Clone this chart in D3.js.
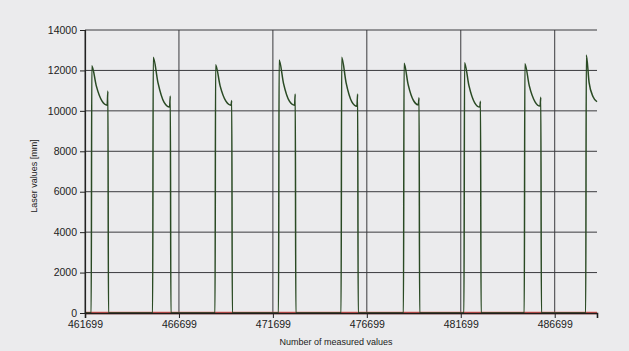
<!DOCTYPE html>
<html>
<head>
<meta charset="utf-8">
<script src="https://cdn.jsdelivr.net/npm/d3@7"></script>
<style>
  html, body { margin: 0; padding: 0; background: #ebebed; }
  svg { display: block; font-family: "Liberation Sans", Arial, sans-serif; }
</style>
</head>
<body>
<svg id="chart" width="629" height="351"></svg>
<script>
const riseAt   = [462030, 465300, 468620, 472000, 475330, 478650, 481870, 485080, 488350];
const dropAt   = [462918, 466240, 469510, 472890, 476210, 479480, 482750, 485960, 488950];
const peakVal  = [12230, 12650, 12280, 12510, 12650, 12350, 12380, 12330, 12760];
const mid1Val  = [11250, 11400, 11250, 11350, 11400, 11300, 11250, 11250, 11400];
const mid2Val  = [10480, 10420, 10480, 10480, 10450, 10500, 10400, 10450, 10700];
const troughVal = [10280, 10190, 10280, 10280, 10230, 10300, 10190, 10240, 10450];
const jumpVal  = [10980, 10740, 10510, 10840, 10840, 10650, 10480, 10670, null];

const xStart = 461699, xEnd = 488950;
const xTicks = [461699, 466699, 471699, 476699, 481699, 486699];
const yTicks = [0, 2000, 4000, 6000, 8000, 10000, 12000, 14000];

const width = 629, height = 351;
const margin = { left: 85, right: 32, top: 30, bottom: 38 };
const svg = d3.select("#chart");

const x = d3.scaleLinear().domain([xStart, xEnd]).range([margin.left, width - margin.right]);
const y = d3.scaleLinear().domain([0, 14000]).range([height - margin.bottom, margin.top]);

const gridColor = "#3a3a3e";

// horizontal grid
svg.append("g").selectAll("line").data(yTicks.filter(d => d > 0)).join("line")
  .attr("x1", margin.left).attr("x2", width - margin.right)
  .attr("y1", d => y(d)).attr("y2", d => y(d))
  .attr("stroke", gridColor).attr("stroke-width", 1);

// vertical grid
svg.append("g").selectAll("line").data(xTicks).join("line")
  .attr("x1", d => x(d)).attr("x2", d => x(d))
  .attr("y1", y(14000)).attr("y2", y(0))
  .attr("stroke", gridColor).attr("stroke-width", 1);

// build the line points
const pts = [[xStart, 0]];
riseAt.forEach((r, i) => {
  const d = dropAt[i], w = d - r;
  pts.push([r, 0]);
  pts.push([r + 30, peakVal[i]]);
  pts.push([r + 0.3 * w, mid1Val[i]]);
  pts.push([r + 0.65 * w, mid2Val[i]]);
  if (jumpVal[i] != null) {
    pts.push([d - 40, troughVal[i]]);
    pts.push([d, jumpVal[i]]);
    pts.push([d + 30, 0]);
  } else {
    pts.push([d, troughVal[i]]);
  }
});

const line = d3.line().x(d => x(d[0])).y(d => y(d[1])).curve(d3.curveMonotoneX);

// red zero series
svg.append("path").datum([[xStart, 0], [xEnd, 0]])
  .attr("d", d3.line().x(d => x(d[0])).y(d => y(d[1])))
  .attr("fill", "none").attr("stroke", "#d9554f").attr("stroke-width", 2.4);

svg.append("path").datum(pts).attr("d", line)
  .attr("fill", "none").attr("stroke", "#2a4a24").attr("stroke-width", 1.5)
  .attr("stroke-linejoin", "round");

// axes
const yAxis = svg.append("g").attr("transform", `translate(${margin.left},0)`)
  .call(d3.axisLeft(y).tickValues(yTicks).tickSize(5).tickPadding(3).tickFormat(d3.format("d")));
const xAxis = svg.append("g").attr("transform", `translate(0,${y(0)})`)
  .call(d3.axisBottom(x).tickValues(xTicks).tickSize(5).tickPadding(3).tickFormat(d3.format("d")));
[yAxis, xAxis].forEach(g => {
  g.select(".domain").attr("stroke", "#222").attr("stroke-width", 1.2);
  g.selectAll(".tick line").attr("stroke", "#222");
  g.selectAll("text").attr("fill", "#222").attr("font-size", 10.5)
    .attr("font-family", "Liberation Sans, Arial, sans-serif");
});
yAxis.selectAll(".tick text").attr("dy", "0.3em");
xAxis.select(".domain").attr("stroke", "#1e1e1e").attr("stroke-width", 1.6);

svg.append("text").attr("x", 336).attr("y", 345).attr("text-anchor", "middle")
  .attr("font-size", 9).attr("fill", "#222").text("Number of measured values");
svg.append("text").attr("transform", "translate(37,176) rotate(-90)").attr("text-anchor", "middle")
  .attr("font-size", 9).attr("fill", "#222").text("Laser values [mm]");
</script>
</body>
</html>
